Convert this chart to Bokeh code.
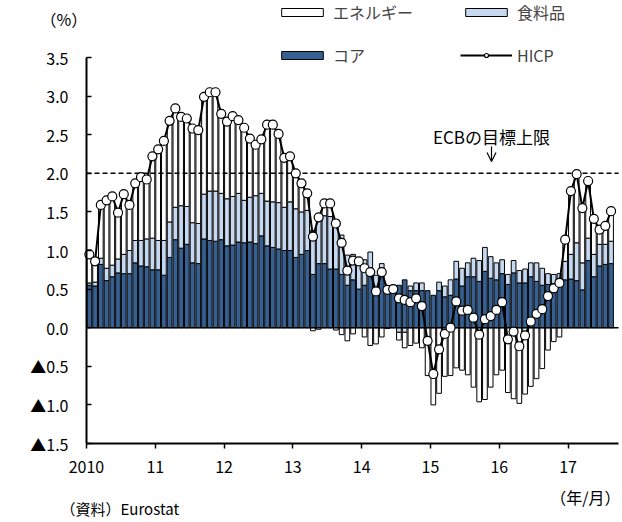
import numpy as np
from bokeh.plotting import figure
from bokeh.models import (ColumnDataSource, Label, Legend, LegendItem,
                          FixedTicker, CustomJSTickFormatter, Arrow, OpenHead)
from bokeh.embed import file_html
from bokeh.resources import INLINE

# ---------------- data (contributions, %pt), Jan 2010 - Aug 2017 ----------------
core = [0.55, 0.54, 0.82, 0.61, 0.66, 0.71, 0.70, 0.70, 0.84, 0.80, 0.79, 0.75,
        0.75, 0.68, 0.91, 1.14, 1.03, 1.08, 0.84, 0.83, 1.15, 1.13, 1.12, 1.14,
        1.06, 1.07, 1.11, 1.10, 1.11, 1.09, 1.19, 1.06, 1.04, 1.02, 1.00, 1.00,
        0.91, 0.95, 1.00, 0.69, 0.83, 0.83, 0.76, 0.76, 0.69, 0.55, 0.62, 0.50,
        0.55, 0.69, 0.48, 0.69, 0.48, 0.50, 0.55, 0.62, 0.48, 0.48, 0.48, 0.48,
        0.42, 0.48, 0.40, 0.42, 0.63, 0.54, 0.66, 0.66, 0.60, 0.73, 0.64, 0.62,
        0.70, 0.56, 0.71, 0.58, 0.58, 0.66, 0.60, 0.55, 0.56, 0.57, 0.56, 0.62,
        0.63, 0.61, 0.49, 0.87, 0.66, 0.80, 0.82, 0.83]
food = [0.03, 0.05, 0.08, 0.16, 0.15, 0.18, 0.25, 0.30, 0.29, 0.33, 0.36, 0.41,
        0.38, 0.45, 0.46, 0.42, 0.55, 0.49, 0.52, 0.52, 0.58, 0.64, 0.65, 0.60,
        0.61, 0.63, 0.63, 0.55, 0.58, 0.62, 0.55, 0.58, 0.59, 0.60, 0.56, 0.63,
        0.63, 0.55, 0.52, 0.57, 0.60, 0.62, 0.68, 0.62, 0.51, 0.39, 0.33, 0.36,
        0.33, 0.29, 0.20, 0.14, 0.02, 0.04, -0.06, -0.06, 0.06, 0.10, 0.10, 0.00,
        0.00, 0.11, 0.14, 0.20, 0.23, 0.23, 0.18, 0.24, 0.27, 0.31, 0.28, 0.22,
        0.18, 0.13, 0.16, 0.16, 0.18, 0.18, 0.24, 0.22, 0.14, 0.12, 0.14, 0.24,
        0.32, 0.49, 0.35, 0.29, 0.29, 0.28, 0.26, 0.29]
energy = [0.37, 0.27, 0.69, 0.88, 0.89, 0.60, 0.78, 0.59, 0.74, 0.82, 0.77, 1.06,
          1.18, 1.29, 1.31, 1.28, 1.15, 1.14, 1.22, 1.21, 1.26, 1.28, 1.28, 1.03,
          1.00, 1.04, 0.95, 0.94, 0.76, 0.66, 0.70, 0.99, 1.00, 0.89, 0.64, 0.59,
          0.46, 0.37, 0.22, -0.04, -0.02, 0.16, 0.16, -0.03, -0.09, -0.17, -0.08, 0.00,
          -0.12, -0.23, -0.21, -0.12, -0.01, 0.01, -0.10, -0.20, -0.23, -0.20, -0.26, -0.62,
          -1.00, -0.85, -0.63, -0.62, -0.52, -0.55, -0.61, -0.77, -0.96, -0.93, -0.77, -0.61,
          -0.55, -0.84, -0.92, -0.98, -0.86, -0.76, -0.66, -0.53, -0.29, -0.18, -0.12, 0.28,
          0.82, 0.90, 0.71, 0.74, 0.46, 0.19, 0.24, 0.39]
hicp = [0.95, 0.86, 1.59, 1.65, 1.70, 1.49, 1.73, 1.59, 1.87, 1.95, 1.92, 2.22,
        2.31, 2.42, 2.68, 2.84, 2.73, 2.71, 2.58, 2.56, 2.99, 3.05, 3.05, 2.77,
        2.67, 2.74, 2.69, 2.59, 2.45, 2.37, 2.44, 2.63, 2.63, 2.51, 2.20, 2.22,
        2.00, 1.87, 1.74, 1.18, 1.43, 1.61, 1.61, 1.35, 1.10, 0.74, 0.87, 0.86,
        0.77, 0.72, 0.47, 0.72, 0.49, 0.50, 0.38, 0.36, 0.33, 0.38, 0.28, -0.17,
        -0.60, -0.28, -0.08, 0.00, 0.34, 0.22, 0.23, 0.13, -0.09, 0.11, 0.15, 0.23,
        0.33, -0.15, -0.05, -0.24, -0.10, 0.08, 0.18, 0.24, 0.41, 0.51, 0.58, 1.14,
        1.77, 1.99, 1.55, 1.90, 1.41, 1.27, 1.32, 1.51]
year_labels = ["2010", "11", "12", "13", "14", "15", "16", "17"]
ecb_target = 2.0
series_names = ["エネルギー", "食料品", "コア", "HICP"]

# ---------------- layout constants (page pixels) ----------------
W, H = 622, 522
AX_L, AX_R, AX_T, AX_B = 86, 618, 57, 443     # plot-area box on the page
X0, X1 = 0.0, 92.8                             # months axis extent
Y0, Y1 = -1.5, 3.5
FONT = "Noto Sans CJK JP"
C_CORE, C_FOOD, C_ENERGY = "#366092", "#C6D9F1", "#FFFFFF"

sx = (X1 - X0) / (AX_R - AX_L)
sy = (Y1 - Y0) / (AX_B - AX_T)
xr = (X0 - AX_L * sx, X1 + (W - AX_R) * sx)
yr = (Y0 - (H - AX_B) * sy, Y1 + AX_T * sy)


def X(px):
    return X0 + (px - AX_L) * sx


def Y(py):
    return Y1 - (py - AX_T) * sy


n = len(core)
xs = np.arange(n) + 0.5
c = np.array(core)
f = np.array(food)
e = np.array(energy)

core_b, core_t = np.zeros(n), c
food_b = np.where(f >= 0, c, 0.0)
food_t = food_b + f
en_b = np.where(e >= 0, c + np.maximum(f, 0), np.minimum(f, 0))
en_t = en_b + e

p = figure(width=W, height=H, x_range=xr, y_range=yr,
           output_backend="svg", toolbar_location=None,
           min_border_left=0, min_border_right=0, min_border_top=0,
           min_border_bottom=0)
p.outline_line_color = None
p.xgrid.visible = False
p.ygrid.visible = False
p.background_fill_color = "white"
p.border_fill_color = "white"

BW = 0.82


def bars(bottom, top, vals, color):
    m = np.abs(vals) > 1e-9
    src = ColumnDataSource(dict(x=xs[m], b=bottom[m], t=top[m]))
    return p.vbar(x="x", bottom="b", top="t", width=BW, source=src,
                  fill_color=color, line_color="black", line_width=1)


r_core = bars(core_b, core_t, c, C_CORE)
r_food = bars(food_b, food_t, f, C_FOOD)
r_en = bars(en_b, en_t, e, C_ENERGY)

# zero line and ECB target line across the axis extent
p.segment(x0=[X0], x1=[X1], y0=[0], y1=[0], line_color="black", line_width=1.5)
p.segment(x0=[X0], x1=[X1], y0=[ecb_target], y1=[ecb_target], line_color="black",
          line_width=1.5, line_dash="5 3")

hsrc = ColumnDataSource(dict(x=xs, y=hicp))
r_line = p.line("x", "y", source=hsrc, line_color="black", line_width=2)
r_pts = p.scatter("x", "y", source=hsrc, size=9, marker="circle",
                  fill_color="white", line_color="black", line_width=1.2)

# axes
p.xaxis.ticker = FixedTicker(ticks=[12 * k for k in range(len(year_labels))])
p.xaxis.formatter = CustomJSTickFormatter(args=dict(labels=year_labels),
                                          code="return labels[Math.round(tick/12)] || '';")
p.yaxis.ticker = FixedTicker(ticks=[-1.5, -1.0, -0.5, 0, 0.5, 1.0, 1.5, 2.0, 2.5, 3.0, 3.5])
p.yaxis.formatter = CustomJSTickFormatter(
    code="return tick < -1e-9 ? '▲' + (-tick).toFixed(1) : Math.abs(tick).toFixed(1);")
p.xaxis.fixed_location = Y0
p.yaxis.fixed_location = X0
p.xaxis.bounds = (X0, X1)
p.yaxis.bounds = (Y0, Y1)
for ax in (p.xaxis[0], p.yaxis[0]):
    ax.axis_line_width = 2
    ax.axis_line_color = "black"
    ax.major_tick_line_color = "black"
    ax.major_tick_line_width = 1.5
    ax.minor_tick_line_color = None
    ax.major_label_text_font = FONT
    ax.major_label_text_font_size = "16px"
    ax.major_label_text_color = "black"
p.yaxis.major_tick_in = 5
p.yaxis.major_tick_out = 0
p.yaxis.major_label_standoff = 18
p.xaxis.major_tick_in = 0
p.xaxis.major_tick_out = 5
p.xaxis.major_label_standoff = 12

# legend (two rows x two columns above the plot area)
legend = Legend(items=[
    LegendItem(label=series_names[0], renderers=[r_en]),
    LegendItem(label=series_names[1], renderers=[r_food]),
    LegendItem(label=series_names[2], renderers=[r_core]),
    LegendItem(label=series_names[3], renderers=[r_line, r_pts]),
], location=(276, H - 67), orientation="horizontal", ncols=2)
legend.glyph_width = 52
legend.glyph_height = 10
legend.label_height = 20
legend.label_width = 108
legend.spacing = 19
legend.padding = 0
legend.margin = 0
legend.label_standoff = 5
legend.border_line_color = None
legend.background_fill_alpha = 0
legend.label_text_font = FONT
legend.label_text_font_size = "16px"
legend.label_text_baseline = "middle"
p.add_layout(legend)


def lab(x, y, text, align="left", size="16px"):
    p.add_layout(Label(x=x, y=y, text=text, text_font=FONT, text_font_size=size,
                       text_align=align, text_baseline="middle", text_color="black"))


lab(X(40), Y(18), "（%）")
lab(X(491), Y(136), "ECBの目標上限", align="center", size="17px")
lab(X(620), Y(496), "（年/月）", align="right")
lab(X(60), Y(508), "（資料）Eurostat", size="15px")
p.add_layout(Arrow(end=OpenHead(size=9, line_width=1.2, line_color="black"),
                   x_start=X(491), y_start=Y(146), x_end=X(491), y_end=Y(161),
                   line_color="black", line_width=1.2))

open("out.html", "w").write(file_html(p, INLINE))
